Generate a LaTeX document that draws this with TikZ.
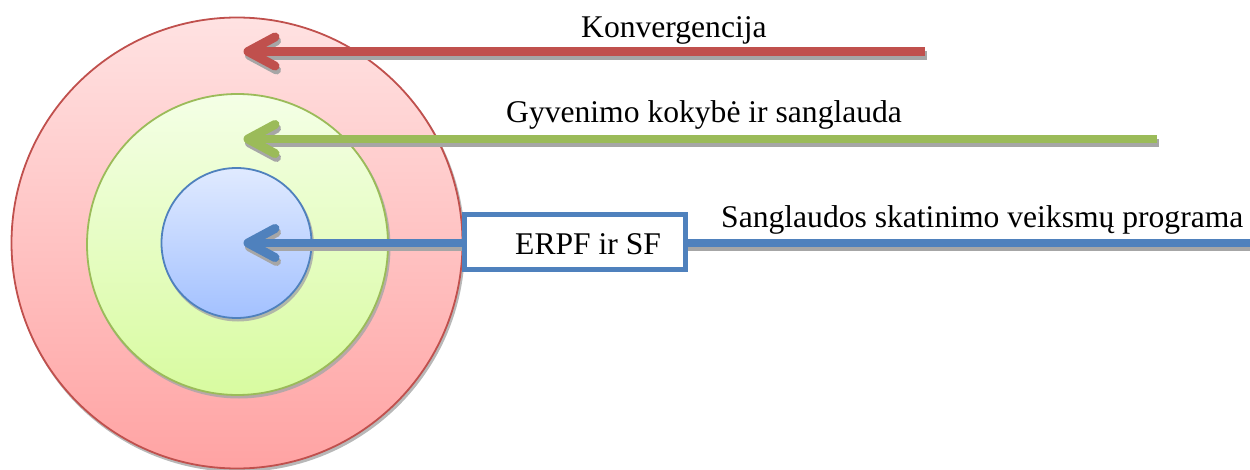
\documentclass[tikz,border=0pt]{standalone}
\usepackage{fontspec}
\setmainfont{Liberation Serif}
\definecolor{cred}{HTML}{C0504D}
\definecolor{cgreen}{HTML}{9BBB59}
\definecolor{cblue}{HTML}{4F81BD}
\definecolor{shgray}{HTML}{A6A6A6}
\definecolor{redtop}{HTML}{FFE2E2}
\definecolor{redbot}{HTML}{FFA3A3}
\definecolor{greentop}{HTML}{F4FFE6}
\definecolor{greenbot}{HTML}{D8FBA0}
\definecolor{bluetop}{HTML}{E0EAFF}
\definecolor{bluebot}{HTML}{A3C1FF}
\begin{document}
\begin{tikzpicture}[x=1pt,y=-1pt,
  ring/.style={circle, draw, line width=1.8pt, inner sep=0pt},
  cshadow/.style={circle, fill=shgray, opacity=0.8, inner sep=0pt},
  arr/.style={line width=8.5pt, line cap=butt},
  chev/.style={line width=9pt, line cap=round, line join=round},
  shd/.style={draw=shgray, transform canvas={shift={(1.5pt,-4pt)}}},
  ebox/.style={rectangle, draw=cblue, line width=5pt, fill=white, inner sep=0pt},
  lbl/.style={inner sep=0pt, font=\fontsize{31.6}{36}\selectfont}
]
\useasboundingbox (0,0) rectangle (1250,470);
% circles
\node[cshadow, minimum size=453pt] (redsh) at (238.5,245.5) {};
\node[ring, draw=cred, top color=redtop, bottom color=redbot, minimum size=451pt] (red) at (237,243) {};
\node[cshadow, minimum size=303pt] (greensh) at (239,247) {};
\node[ring, draw=cgreen, top color=greentop, bottom color=greenbot, minimum size=301pt] (green) at (237.5,244.5) {};
\node[cshadow, minimum size=152pt] (bluesh) at (238,245.5) {};
\node[ring, draw=cblue, top color=bluetop, bottom color=bluebot, minimum size=150pt] (blue) at (236.5,243) {};
% arrow ends
\coordinate (rtail) at (925,51.5);
\coordinate (rtip) at (248,51.5);
\coordinate (gtail) at (1157,139);
\coordinate (gtip) at (248,139);
\coordinate (btail) at (1252,243);
\coordinate (btip) at (248,243);
% arrows: shadows
\foreach \t/\h in {rtail/rtip, gtail/gtip, btail/btip}{
  \draw[arr, shd] (\t) -- (\h);
  \draw[chev, shd] ([shift={(27,-14.5)}]\h) -- (\h) -- ([shift={(27,14.5)}]\h);
}
% arrows
\foreach \t/\h/\c in {rtail/rtip/cred, gtail/gtip/cgreen, btail/btip/cblue}{
  \draw[arr, draw=\c] (\t) -- (\h);
  \draw[chev, draw=\c] ([shift={(27,-14.5)}]\h) -- (\h) -- ([shift={(27,14.5)}]\h);
}
% box
\node[ebox, minimum width=221pt, minimum height=55pt] (box) at (575,242) {};
\node[lbl, anchor=base west] (erpf) at (515,255) {ERPF ir SF};
% labels
\node[lbl, anchor=base west] (konv) at (581,38) {Konvergencija};
\node[lbl, anchor=base west] (gyv) at (506,123) {Gyvenimo kokybė ir sanglauda};
\node[lbl, anchor=base west] (sang) at (721,228) {Sanglaudos skatinimo veiksmų programa};
\end{tikzpicture}
\end{document}
